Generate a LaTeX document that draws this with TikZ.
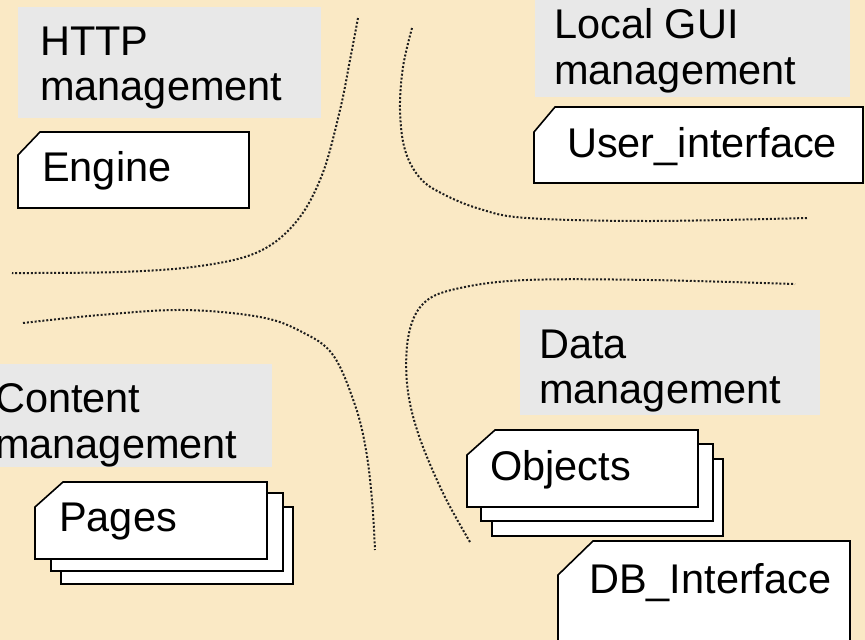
\documentclass[tikz,border=0pt]{standalone}
\usepackage{fontspec}
\setmainfont{Liberation Sans}
\definecolor{bg}{RGB}{250,233,197}
\definecolor{boxgray}{RGB}{232,232,232}
\definecolor{dotc}{RGB}{30,30,30}
\begin{document}
\begin{tikzpicture}[x=1pt,y=-1pt,
  lbl/.style={font=\fontsize{41.5}{45.5}\selectfont, inner sep=0pt, align=left, anchor=base west},
  graybox/.style={fill=boxgray, draw=none, inner sep=0pt, anchor=north west},
  card/.style={draw=black, fill=white, line width=1.6pt, line join=miter},
  sepline/.style={draw=dotc, line width=2pt, dash pattern=on 2pt off 1.9pt}]
\useasboundingbox (0,0) rectangle (865,640);
\fill[bg] (0,0) rectangle (865,640);
\begin{scope}
\clip (0,0) rectangle (865,640);
% gray group boxes
\node[graybox, minimum width=303pt, minimum height=111pt] (httpbox) at (18,7) {};
\node[graybox, minimum width=315pt, minimum height=107pt] (guibox) at (535,-10) {};
\node[graybox, minimum width=300pt, minimum height=103pt] (contentbox) at (-28,364) {};
\node[graybox, minimum width=300pt, minimum height=105pt] (databox) at (520,310) {};
% separators
\draw[sepline] plot[smooth, tension=0.6] coordinates {(358,18) (350,60) (340,110) (322,175) (296,222) (258,252) (200,266) (120,272) (12,273)};
\draw[sepline] plot[smooth, tension=0.6] coordinates {(412,28) (403,67) (400,110) (405,150) (420,178) (443,194) (480,209) (527,218) (650,221) (807,218)};
\draw[sepline] plot[smooth, tension=0.6] coordinates {(23,323) (100,315) (183,310) (260,317) (302,332) (333,355) (355,405) (366,450) (372,500) (375,550)};
\draw[sepline] plot[smooth, tension=0.6] coordinates {(470,542) (443,493) (418,433) (407,383) (409,333) (425,302) (460,288) (527,280) (650,280) (795,284)};
% cards
\draw[card] (18,155) -- (40,132) -- (249,132) -- (249,208) -- (18,208) -- cycle;
\draw[card] (534,132) -- (555,107) -- (863,107) -- (863,183) -- (534,183) -- cycle;
\draw[card] (61,507) rectangle (293,584);
\draw[card] (51,493) rectangle (283,571);
\draw[card] (35,507) -- (63,482) -- (267,482) -- (267,559) -- (35,559) -- cycle;
\draw[card] (492,459) rectangle (723,536);
\draw[card] (481,444) rectangle (713,521);
\draw[card] (467,455) -- (495,430) -- (698,430) -- (698,507) -- (467,507) -- cycle;
\draw[card] (558,575) -- (593,541) -- (850,541) -- (850,660) -- (558,660) -- cycle;
% texts (anchor at baseline of the last line)
\node[lbl] (http) at (40,100.5) {HTTP\\management};
\node[lbl] (gui) at (554,84) {Local GUI\\management};
\node[lbl] (content) at (-5,458) {Content\\management};
\node[lbl] (data) at (539,403.5) {Data\\management};
\node[lbl] (engine) at (42,181) {Engine};
\node[lbl] (user) at (567,157) {User\_interface};
\node[lbl] (pages) at (59,531) {Pages};
\node[lbl] (objects) at (490,480) {Objects};
\node[lbl] (db) at (589,593) {DB\_Interface};
\end{scope}
\end{tikzpicture}
\end{document}
